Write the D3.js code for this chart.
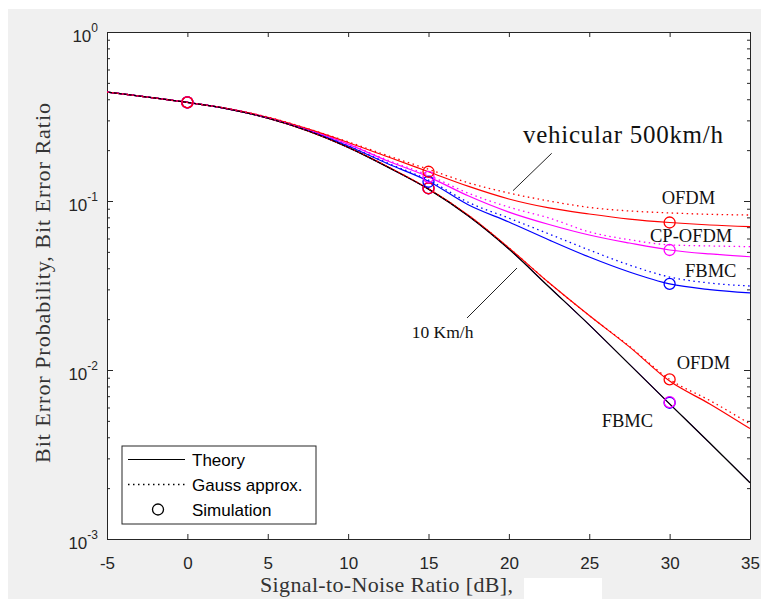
<!DOCTYPE html>
<html>
<head>
<meta charset="utf-8">
<script src="https://cdn.jsdelivr.net/npm/d3@7"></script>
<style>
  body { margin: 0; background: #fff; }
  svg { display: block; }
</style>
</head>
<body>
<div class="chart"></div>
<script>
// SNR grid (dB) for the curves
const snr = [-5, 0, 2.5, 5, 7.5, 10, 12.5, 15, 17.5, 20, 22.5, 25, 27.5, 30, 32.5, 35]

const theory = [0.441, 0.383, 0.351, 0.309, 0.26, 0.2075, 0.158, 0.1175, 0.0813, 0.052, 0.031, 0.0185, 0.0108, 0.0063, 0.0037, 0.00215]

// 10 km/h
const ofdm10 = [0.441, 0.383, 0.351, 0.309, 0.26, 0.208, 0.159, 0.118, 0.082, 0.0528, 0.0328, 0.021, 0.0137, 0.0086, 0.0063, 0.0045]
const ofdm10Gauss = [0.441, 0.383, 0.351, 0.309, 0.26, 0.208, 0.159, 0.118, 0.082, 0.0528, 0.0328, 0.021, 0.0138, 0.0088, 0.0066, 0.0048]
const cpofdm10 = [0.441, 0.383, 0.351, 0.309, 0.26, 0.2075, 0.158, 0.1175, 0.0813, 0.052, 0.031, 0.0185, 0.0108, 0.0063, 0.0037, 0.00215]
const fbmc10 = [0.441, 0.383, 0.351, 0.309, 0.26, 0.2075, 0.158, 0.1175, 0.0813, 0.052, 0.031, 0.0185, 0.0108, 0.0063, 0.0037, 0.00215]

// 500 km/h
const ofdm500 = [0.441, 0.383, 0.352, 0.313, 0.267, 0.222, 0.182, 0.149, 0.122, 0.1028, 0.091, 0.0838, 0.0782, 0.0746, 0.0721, 0.0705]
const ofdm500Gauss = [0.441, 0.383, 0.352, 0.314, 0.268, 0.224, 0.185, 0.154, 0.128, 0.1115, 0.1, 0.0916, 0.0873, 0.085, 0.0834, 0.0826]
const cpofdm500 = [0.441, 0.383, 0.352, 0.312, 0.265, 0.217, 0.172, 0.139, 0.107, 0.086, 0.0726, 0.0629, 0.0564, 0.0513, 0.0486, 0.0468]
const cpofdm500Gauss = [0.441, 0.383, 0.352, 0.312, 0.265, 0.218, 0.174, 0.142, 0.111, 0.092, 0.0793, 0.0657, 0.059, 0.055, 0.0542, 0.0537]
const fbmc500 = [0.441, 0.383, 0.351, 0.311, 0.263, 0.2115, 0.1656, 0.131, 0.0947, 0.0751, 0.0588, 0.0466, 0.038, 0.0323, 0.0299, 0.0286]
const fbmc500Gauss = [0.441, 0.383, 0.351, 0.311, 0.263, 0.212, 0.167, 0.133, 0.098, 0.0792, 0.0638, 0.0513, 0.0418, 0.0355, 0.0327, 0.0314]

// simulation markers
const snrSim = [0, 15, 30]
const fbmc10Sim = [0.383, 0.119, 0.0064]
const cpofdm10Sim = [0.383, 0.119, 0.00645]
const ofdm10Sim = [0.383, 0.119, 0.0088]
const fbmc500Sim = [0.383, 0.13, 0.0323]
const cpofdm500Sim = [0.383, 0.139, 0.0513]
const ofdm500Sim = [0.383, 0.149, 0.0746]

const xTicks = [-5, 0, 5, 10, 15, 20, 25, 30, 35]
const yTicks = [1e-3, 1e-2, 1e-1, 1]
const yTickExp = ['-3', '-2', '-1', '0']

const RED = '#ff0000'
const MAGENTA = '#ff00ff'
const BLUE = '#0000ff'
const AXIS = '#262626'
const W = 761
const H = 599
const plot = { left: 107, right: 750, top: 32, bottom: 539 }

const svg = d3.select('.chart').append('svg')
	.attr('width', W)
	.attr('height', H)

svg.append('rect').attr('width', W).attr('height', H).attr('fill', '#fff')
svg.append('rect')
	.attr('x', 8).attr('y', 9)
	.attr('width', W - 8).attr('height', H - 9)
	.attr('fill', '#f0f0f0')

const x = d3.scaleLinear().domain([-5, 35]).range([plot.left, plot.right])
const y = d3.scaleLog().domain([1e-3, 1]).range([plot.bottom, plot.top])

svg.append('rect')
	.attr('x', plot.left).attr('y', plot.top)
	.attr('width', plot.right - plot.left)
	.attr('height', plot.bottom - plot.top)
	.attr('fill', '#fff')

const minor = []
yTicks.slice(0, 3).forEach(d => {
	for (let k = 2; k <= 9; k++) minor.push(d * k)
})

function styleAxis(g) {
	g.select('.domain').attr('stroke', AXIS)
	g.selectAll('.tick line').attr('stroke', AXIS)
	g.selectAll('.tick text')
		.attr('fill', AXIS)
		.attr('font-size', null)
		.style('font-family', '"Liberation Sans", Arial, sans-serif')
		.style('font-size', '17px')
}

const axes = svg.append('g').attr('class', 'g-axis')

axes.append('g')
	.attr('transform', `translate(0,${plot.bottom})`)
	.call(d3.axisBottom(x).tickValues(xTicks).tickSize(-5).tickPadding(18).tickSizeOuter(0).tickFormat(d => String(d)))
	.call(styleAxis)

axes.append('g')
	.attr('transform', `translate(0,${plot.top})`)
	.call(d3.axisTop(x).tickValues(xTicks).tickSize(-5).tickFormat('').tickSizeOuter(0))
	.call(styleAxis)

axes.append('g')
	.attr('transform', `translate(${plot.left},0)`)
	.call(d3.axisLeft(y).tickValues(yTicks).tickSize(-6).tickFormat('').tickSizeOuter(0))
	.call(styleAxis)
axes.append('g')
	.attr('transform', `translate(${plot.left},0)`)
	.call(d3.axisLeft(y).tickValues(minor).tickSize(-3).tickFormat('').tickSizeOuter(0))
	.call(styleAxis)
	.call(g => g.select('.domain').remove())

axes.append('g')
	.attr('transform', `translate(${plot.right},0)`)
	.call(d3.axisRight(y).tickValues(yTicks).tickSize(-6).tickFormat('').tickSizeOuter(0))
	.call(styleAxis)
axes.append('g')
	.attr('transform', `translate(${plot.right},0)`)
	.call(d3.axisRight(y).tickValues(minor).tickSize(-3).tickFormat('').tickSizeOuter(0))
	.call(styleAxis)
	.call(g => g.select('.domain').remove())

// y labels as 10^n
const yLab = axes.append('g')
	.style('font-family', '"Liberation Sans", Arial, sans-serif')
	.attr('fill', AXIS)
yTicks.forEach((d, i) => {
	const t = yLab.append('text')
		.attr('x', 98)
		.attr('y', y(d) + 10)
		.attr('text-anchor', 'end')
		.style('font-size', '17px')
	t.append('tspan').text('10')
	t.append('tspan').attr('dy', -10).style('font-size', '12px').text(yTickExp[i])
})

// curves
const line = d3.line()
	.x((d, i) => x(snr[i]))
	.y(d => y(d))
	.curve(d3.curveMonotoneX)

const g = svg.append('g').attr('class', 'g-plot')

function drawLine(values, color, dotted, width) {
	g.append('path')
		.datum(values)
		.attr('d', line)
		.attr('fill', 'none')
		.attr('stroke', color)
		.attr('stroke-width', width || (dotted ? 1.3 : 1.2))
		.attr('stroke-dasharray', dotted ? '1.5,3.5' : null)
}

// 10 km/h FBMC / CP-OFDM sit under the theory line
drawLine(fbmc10, BLUE, false, 0.9)
drawLine(cpofdm10, MAGENTA, false, 0.9)
drawLine(ofdm10, RED, false)
drawLine(fbmc500, BLUE, false)
drawLine(cpofdm500, MAGENTA, false)
drawLine(ofdm500, RED, false)
drawLine(theory, '#000', false, 1.3)
drawLine(ofdm10Gauss, RED, true)
drawLine(fbmc500Gauss, BLUE, true)
drawLine(cpofdm500Gauss, MAGENTA, true)
drawLine(ofdm500Gauss, RED, true)

function drawSim(values, color) {
	g.append('g').selectAll('circle')
		.data(values)
		.join('circle')
		.attr('cx', (d, i) => x(snrSim[i]))
		.attr('cy', d => y(d))
		.attr('r', 5.5)
		.attr('fill', 'none')
		.attr('stroke', color)
		.attr('stroke-width', 1.3)
}

drawSim(fbmc10Sim, BLUE)
drawSim(cpofdm10Sim, MAGENTA)
drawSim(ofdm10Sim, RED)
drawSim(fbmc500Sim, BLUE)
drawSim(cpofdm500Sim, MAGENTA)
drawSim(ofdm500Sim, RED)

// annotations
const notes = svg.append('g')
	.style('font-family', '"Liberation Serif", "Times New Roman", serif')
	.attr('fill', '#111')

notes.append('text').attr('x', 523).attr('y', 143)
	.style('font-size', '25px')
	.attr('textLength', 200)
	.text('vehicular 500km/h')
notes.append('line')
	.attr('x1', 551.7).attr('y1', 153.3).attr('x2', 513).attr('y2', 190.7)
	.attr('stroke', '#222')

notes.append('text').attr('x', 411.7).attr('y', 338).style('font-size', '17.5px').text('10 Km/h')
notes.append('line')
	.attr('x1', 467).attr('y1', 318).attr('x2', 517).attr('y2', 268)
	.attr('stroke', '#222')

const labels = [
	['OFDM', 661.7, 204],
	['CP-OFDM', 650, 241.7],
	['FBMC', 685, 277],
	['OFDM', 676.7, 369],
	['FBMC', 601.7, 426.7],
]
labels.forEach(([t, lx, ly]) => {
	notes.append('text').attr('x', lx).attr('y', ly).style('font-size', '18.5px').text(t)
})

// legend
const leg = svg.append('g').attr('transform', 'translate(122,446)')
leg.append('rect')
	.attr('width', 194).attr('height', 78)
	.attr('fill', '#fff').attr('stroke', AXIS)
const legItems = ['Theory', 'Gauss approx.', 'Simulation']
legItems.forEach((t, i) => {
	const ly = 13.5 + i * 25
	if (i === 0) {
		leg.append('line').attr('x1', 6).attr('x2', 63).attr('y1', ly).attr('y2', ly).attr('stroke', '#000').attr('stroke-width', 1.2)
	} else if (i === 1) {
		leg.append('line').attr('x1', 6).attr('x2', 63).attr('y1', ly).attr('y2', ly).attr('stroke', '#000').attr('stroke-width', 1.3).attr('stroke-dasharray', '1.5,3.5')
	} else {
		leg.append('circle').attr('cx', 36).attr('cy', ly).attr('r', 5.5).attr('fill', 'none').attr('stroke', '#000').attr('stroke-width', 1.3)
	}
	leg.append('text')
		.attr('x', 70).attr('y', ly + 6)
		.style('font-family', '"Liberation Sans", Arial, sans-serif')
		.style('font-size', '17px')
		.attr('fill', '#000')
		.text(t)
})

// axis titles
svg.append('text')
	.attr('x', 260).attr('y', 592)
	.style('font-family', '"Liberation Serif", "Times New Roman", serif')
	.style('font-size', '22px')
	.attr('fill', '#333')
	.attr('textLength', 253)
	.text('Signal-to-Noise Ratio [dB],')

svg.append('text')
	.attr('transform', 'translate(50,283) rotate(-90)')
	.attr('text-anchor', 'middle')
	.style('font-family', '"Liberation Serif", "Times New Roman", serif')
	.style('font-size', '22px')
	.attr('fill', '#333')
	.attr('textLength', 360)
	.text('Bit Error Probability, Bit Error Ratio')

// blank patch below the x title
svg.append('rect')
	.attr('x', 524).attr('y', 578).attr('width', 78).attr('height', 21)
	.attr('fill', '#fff')
</script>
</body>
</html>
